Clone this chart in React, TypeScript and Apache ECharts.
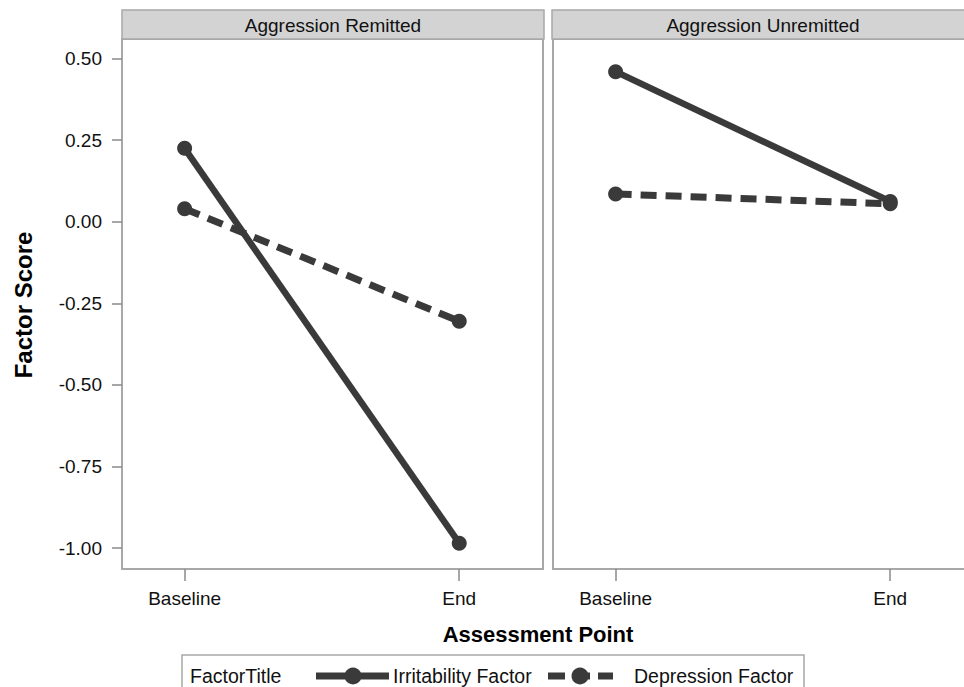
import React, { useEffect, useRef } from "react";
import * as echarts from "echarts";

const panels = ["Aggression Remitted", "Aggression Unremitted"];
const assessmentPoints = ["Baseline", "End"];
const seriesNames = ["Irritability Factor", "Depression Factor"];
const irritabilityRemitted = [0.225, -0.985];
const depressionRemitted = [0.04, -0.305];
const irritabilityUnremitted = [0.46, 0.062];
const depressionUnremitted = [0.085, 0.055];
const yTicks = [-1, -0.75, -0.5, -0.25, 0, 0.25, 0.5];
const legendTitle = "FactorTitle";
const xTitle = "Assessment Point";
const yTitle = "Factor Score";

const FONT = "Liberation Sans, Arial, sans-serif";
const LINE = "#3a3a3a";
const FRAME = "#a8a8a8";
const TICK = "#8a8a8a";

const GRID_TOP = 39;
const GRID_H = 530;
const GRID_W = 421;
const GRID_LEFTS = [122, 553];
const X_MIN = -0.228;
const X_MAX = 1.305;
const Y_MIN = -1.064;
const Y_MAX = 0.56;

export default function App() {
  const ref = useRef<HTMLDivElement>(null);
  useEffect(() => {
    if (!ref.current) return;
    const chart = echarts.init(ref.current, undefined, { renderer: "svg" });
    const xIdx = [0, 1];
    const toPts = (arr: number[]) => arr.map((v, i) => [i, v]);
    const panelData = [
      [irritabilityRemitted, depressionRemitted],
      [irritabilityUnremitted, depressionUnremitted],
    ];
    const series: any[] = [];
    panelData.forEach((pd, p) => {
      series.push({
        name: seriesNames[1],
        type: "line",
        xAxisIndex: p,
        yAxisIndex: p,
        data: toPts(pd[1]),
        symbol: "circle",
        symbolSize: 15,
        lineStyle: { color: LINE, width: 7, type: [16, 9], cap: "butt" },
        itemStyle: { color: LINE },
        silent: true,
      });
      series.push({
        name: seriesNames[0],
        type: "line",
        xAxisIndex: p,
        yAxisIndex: p,
        data: toPts(pd[0]),
        symbol: "circle",
        symbolSize: 15,
        lineStyle: { color: LINE, width: 6.5, type: "solid" },
        itemStyle: { color: LINE },
        silent: true,
      });
    });

    const graphic: any[] = [];
    panels.forEach((name, p) => {
      const left = GRID_LEFTS[p] - (p === 1 ? 1 : 0);
      graphic.push({
        type: "rect",
        shape: { x: left, y: 10, width: GRID_W + 1, height: 29 },
        style: { fill: "#d3d3d3", stroke: FRAME, lineWidth: 1.5 },
        z: 10,
      });
      graphic.push({
        type: "text",
        x: left + GRID_W / 2 + 0.5,
        y: 25,
        style: {
          text: name,
          font: `19px ${FONT}`,
          fill: "#111",
          align: "center",
          verticalAlign: "middle",
        },
        z: 11,
      });
    });
    graphic.push({
      type: "text",
      x: 538,
      y: 634,
      style: {
        text: xTitle,
        font: `bold 22px ${FONT}`,
        fill: "#000",
        align: "center",
        verticalAlign: "middle",
      },
    });
    graphic.push({
      type: "text",
      x: 23,
      y: 305,
      rotation: Math.PI / 2,
      style: {
        text: yTitle,
        font: `bold 24px ${FONT}`,
        fill: "#000",
        align: "center",
        verticalAlign: "middle",
      },
    });
    const LY = 676;
    const LFONT = `19.5px ${FONT}`;
    graphic.push({
      type: "rect",
      shape: { x: 182, y: 655, width: 622, height: 40 },
      style: { fill: "#fff", stroke: FRAME, lineWidth: 1.5 },
    });
    graphic.push({
      type: "text",
      x: 190,
      y: LY,
      style: { text: legendTitle, font: LFONT, fill: "#111", verticalAlign: "middle" },
    });
    graphic.push({
      type: "line",
      shape: { x1: 316, y1: LY, x2: 389, y2: LY },
      style: { stroke: LINE, lineWidth: 7 },
    });
    graphic.push({
      type: "circle",
      shape: { cx: 353, cy: LY, r: 8.5 },
      style: { fill: LINE },
    });
    graphic.push({
      type: "text",
      x: 393,
      y: LY,
      style: { text: seriesNames[0], font: LFONT, fill: "#111", verticalAlign: "middle" },
    });
    graphic.push({
      type: "line",
      shape: { x1: 548, y1: LY, x2: 613, y2: LY },
      style: { stroke: LINE, lineWidth: 7, lineDash: [17, 8] },
    });
    graphic.push({
      type: "circle",
      shape: { cx: 580, cy: LY, r: 8.5 },
      style: { fill: LINE },
    });
    graphic.push({
      type: "text",
      x: 634,
      y: LY,
      style: { text: seriesNames[1], font: LFONT, fill: "#111", verticalAlign: "middle" },
    });

    const option: any = {
      animation: false,
      backgroundColor: "#fff",
      grid: GRID_LEFTS.map((l) => ({
        left: l,
        top: GRID_TOP,
        width: GRID_W,
        height: GRID_H,
        outerBoundsMode: "none",
        containLabel: false,
        show: true,
        borderColor: FRAME,
        borderWidth: 2,
        backgroundColor: "#fff",
      })),
      xAxis: xIdx.map((i) => ({
        type: "value",
        gridIndex: i,
        min: X_MIN,
        max: X_MAX,
        axisLine: { show: true, onZero: false, lineStyle: { color: FRAME, width: 2 } },
        splitLine: { show: false },
        axisTick: {
          show: true,
          customValues: [0, 1],
          length: 12,
          lineStyle: { color: TICK, width: 1.5 },
        },
        axisLabel: {
          customValues: [0, 1],
          formatter: (v: number) => assessmentPoints[Math.round(v)] ?? "",
          margin: 20,
          fontSize: 19,
          fontFamily: FONT,
          color: "#111",
        },
      })),
      yAxis: xIdx.map((i) => ({
        type: "value",
        gridIndex: i,
        min: Y_MIN,
        max: Y_MAX,
        axisLine: { show: true, onZero: false, lineStyle: { color: FRAME, width: 2 } },
        splitLine: { show: false },
        axisTick: {
          show: i === 0,
          customValues: yTicks,
          length: 10,
          lineStyle: { color: TICK, width: 1.5 },
        },
        axisLabel: {
          show: i === 0,
          customValues: yTicks,
          formatter: (v: number) => v.toFixed(2),
          margin: 20,
          fontSize: 19,
          fontFamily: FONT,
          color: "#111",
        },
      })),
      series,
      graphic,
    };
    chart.setOption(option);
    return () => chart.dispose();
  }, []);
  return (
    <div
      ref={ref}
      style={{ position: "fixed", left: 0, top: 0, width: 964, height: 687 }}
    />
  );
}
